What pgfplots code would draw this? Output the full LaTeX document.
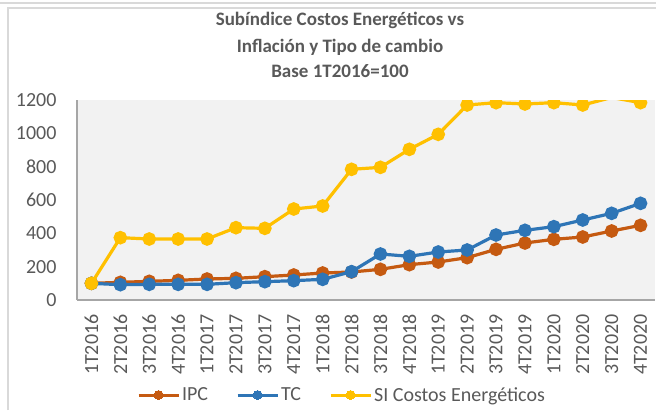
\documentclass[border=0pt]{standalone}
\usepackage{pgfplots}
\pgfplotsset{compat=1.18}
\usepackage{fontspec}
\setmainfont{Carlito}
\definecolor{txt}{HTML}{595959}
\definecolor{ipc}{HTML}{C55A11}
\definecolor{tc}{HTML}{2E75B6}
\definecolor{si}{HTML}{FFC000}
\definecolor{bg}{HTML}{F2F2F2}
\definecolor{ax}{HTML}{A6A6A6}
\definecolor{frm}{HTML}{D9D9D9}
\begin{document}
\begin{tikzpicture}[x=1pt,y=1pt]
\useasboundingbox (0,0) rectangle (656,410);
\draw[frm,line width=1.2pt] (0,407) -- (656,407);
\draw[frm,line width=1.2pt] (8,0) -- (8,402) -- (656,402);
\begin{axis}[
  at={(77pt,110pt)}, anchor=south west,
  width=578pt, height=200pt, scale only axis,
  xmin=-0.5, xmax=19.5, ymin=0, ymax=1200,
  xtick={0,...,19},
  xticklabels={1T2016,2T2016,3T2016,4T2016,1T2017,2T2017,3T2017,4T2017,1T2018,2T2018,3T2018,4T2018,1T2019,2T2019,3T2019,4T2019,1T2020,2T2020,3T2020,4T2020},
  ytick={0,200,...,1200},
  axis background/.style={fill=bg},
  axis x line*=bottom, axis y line*=left,
  axis line style={draw=ax,line width=1.2pt,-},
  tick style={draw=none},
  ticklabel style={font=\fontsize{20}{24}\selectfont, text=txt},
  yticklabel style={xshift=-17pt},
  xticklabel style={rotate=90, anchor=east, xshift=-11pt},
  /pgf/number format/assume math mode=true,
  /pgf/number format/1000 sep={},
  clip marker paths=true,
  every axis plot/.append style={line width=3.2pt, mark=*, mark size=5.2pt},
  legend style={at={(axis description cs:0.4585,-0.475)}, anchor=center,
    draw=none, fill=none, legend columns=3,
    font=\fontsize{20}{24}\selectfont, text=txt,
    /tikz/every even column/.append style={column sep=26pt}},
  legend image code/.code={\draw[#1,mark=none,line width=3pt] (0pt,0pt) -- (40pt,0pt);
    \draw[#1,mark size=4.5pt,line width=0pt] plot coordinates {(20pt,0pt)};},
]
\addplot[ipc, mark options={fill=ipc,draw=ipc}] coordinates {
(0,100)(1,106)(2,112)(3,118)(4,126)(5,130)(6,140)(7,150)(8,162)(9,168)
(10,184)(11,212)(12,228)(13,254)(14,304)(15,342)(16,364)(17,378)(18,414)(19,448)};
\addlegendentry{IPC}
\addplot[tc, mark options={fill=tc,draw=tc}] coordinates {
(0,100)(1,92)(2,94)(3,94)(4,94)(5,104)(6,110)(7,116)(8,124)(9,170)
(10,276)(11,262)(12,288)(13,300)(14,390)(15,418)(16,440)(17,480)(18,520)(19,580)};
\addlegendentry{TC}
\addplot[si, mark options={fill=si,draw=si}] coordinates {
(0,100)(1,374)(2,366)(3,366)(4,366)(5,434)(6,430)(7,546)(8,564)(9,784)
(10,796)(11,904)(12,994)(13,1170)(14,1184)(15,1176)(16,1184)(17,1170)(18,1215)(19,1184)};
\addlegendentry{SI Costos Energéticos}
\end{axis}
\node[anchor=base, text=txt, font=\bfseries\fontsize{19}{23}\selectfont] at (340,384) {Subíndice Costos Energéticos vs};
\node[anchor=base, text=txt, font=\bfseries\fontsize{19}{23}\selectfont] at (340,357) {Inflación y Tipo de cambio};
\node[anchor=base, text=txt, font=\bfseries\fontsize{19}{23}\selectfont] at (340,332) {Base 1T2016=100};
\end{tikzpicture}
\end{document}
